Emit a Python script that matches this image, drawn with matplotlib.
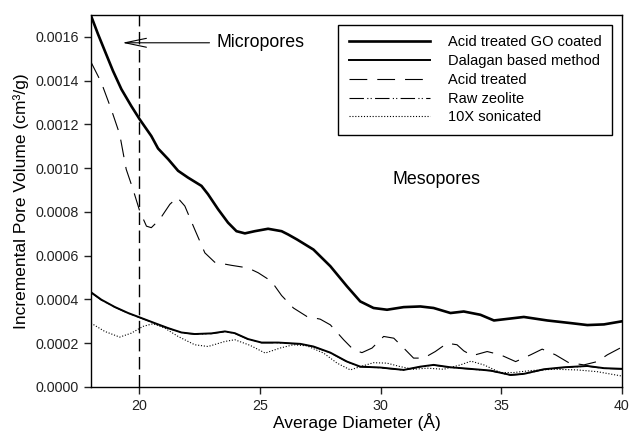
import matplotlib
matplotlib.use("Agg")
import matplotlib.pyplot as plt

plt.rcParams['font.family'] = ['Liberation Sans', 'DejaVu Sans']

# Acid treated GO coated
go_x = [18.0, 18.29, 18.57, 18.91, 19.26, 19.67, 20.02, 20.5, 20.78, 21.2, 21.61, 22.02,
        22.58, 22.85, 23.27, 23.68, 24.03, 24.38, 24.79, 25.34, 25.9, 26.17, 26.54, 27.22,
        27.92, 28.61, 29.16, 29.71, 30.27, 30.96, 31.65, 32.2, 32.9, 33.45, 34.14, 34.7,
        35.94, 36.91, 37.88, 38.57, 39.26, 40.0]
go_y = [0.001697, 0.001613, 0.001537, 0.001445, 0.001361, 0.001284, 0.001223, 0.001147,
        0.001090, 0.001041, 0.000988, 0.000957, 0.000919, 0.000881, 0.000812, 0.000751,
        0.000712, 0.000702, 0.000712, 0.000723, 0.000712, 0.000697, 0.000674, 0.000628,
        0.000552, 0.000460, 0.000391, 0.000361, 0.000353, 0.000365, 0.000368, 0.000361,
        0.000338, 0.000345, 0.000330, 0.000304, 0.000320, 0.000304, 0.000292, 0.000283,
        0.000286, 0.000300]

# Dalagan based method
dal_x = [18.0, 18.43, 18.98, 19.54, 20.09, 20.64, 21.2, 21.75, 22.3, 23.0, 23.55, 23.96,
         24.51, 25.07, 25.76, 26.68, 27.22, 27.92, 28.61, 29.16, 29.99, 30.96, 31.65, 32.2,
         32.9, 33.59, 34.56, 35.39, 35.94, 36.77, 37.6, 38.57, 39.26, 40.0]
dal_y = [0.000433, 0.000399, 0.000366, 0.000338, 0.000315, 0.000292, 0.000269, 0.000249,
         0.000242, 0.000245, 0.000254, 0.000246, 0.000219, 0.000203, 0.000203, 0.000197,
         0.000185, 0.000157, 0.000116, 0.000093, 0.000089, 0.000078, 0.000093, 0.000101,
         0.000090, 0.000084, 0.000075, 0.000055, 0.000060, 0.000081, 0.000090, 0.000096,
         0.000086, 0.000083]

# Acid treated
acid_x = [18.0, 18.43, 18.84, 19.19, 19.46, 19.74, 20.02, 20.3, 20.5, 20.85, 21.27, 21.58,
          21.89, 22.3, 22.72, 23.13, 23.82, 24.51, 24.93, 25.48, 25.9, 26.39, 26.95, 27.5,
          27.92, 28.47, 28.88, 29.23, 29.65, 30.13, 30.55, 30.96, 31.37, 31.79, 32.27,
          32.76, 33.17, 33.45, 33.8, 34.42, 34.97, 35.6, 36.22, 36.7, 37.25, 37.8, 38.43,
          38.98, 39.4, 40.0]
acid_y = [0.001485, 0.001391, 0.001269, 0.001155, 0.000995, 0.000904, 0.000804, 0.000735,
          0.000728, 0.000766, 0.000835, 0.000866, 0.000827, 0.000720, 0.000613, 0.000570,
          0.000556, 0.000544, 0.000522, 0.000483, 0.000418, 0.000361, 0.000322, 0.000310,
          0.000284, 0.000216, 0.000170, 0.000157, 0.000178, 0.000231, 0.000223, 0.000178,
          0.000132, 0.000132, 0.000162, 0.000200, 0.000193, 0.000165, 0.000143, 0.000162,
          0.000147, 0.000116, 0.000147, 0.000173, 0.000147, 0.000111, 0.000101, 0.000116,
          0.000147, 0.000182]

# Raw zeolite (runs under the Dalagan curve)
raw_x = [18.0, 18.43, 18.98, 19.54, 20.09, 20.64, 21.2, 21.75, 22.3, 23.0, 23.55, 23.96,
         24.51, 25.07, 25.76, 26.68, 27.22, 27.92, 28.61, 29.16, 29.99, 30.96, 31.65, 32.2,
         32.9, 33.59, 34.56, 35.39, 35.94, 36.77, 37.6, 38.57, 39.26, 40.0]
raw_y = [0.000431, 0.000397, 0.000365, 0.000337, 0.000314, 0.000291, 0.000268, 0.000248,
         0.000241, 0.000244, 0.000253, 0.000245, 0.000218, 0.000202, 0.000202, 0.000196,
         0.000184, 0.000156, 0.000115, 0.000092, 0.000088, 0.000077, 0.000092, 0.000100,
         0.000089, 0.000083, 0.000074, 0.000054, 0.000059, 0.000080, 0.000089, 0.000095,
         0.000085, 0.000082]

# 10X sonicated
son_x = [18.0, 18.57, 19.19, 19.67, 20.16, 20.57, 21.06, 21.61, 22.3, 22.85, 23.55, 23.96,
         24.6, 25.22, 25.84, 26.39, 26.95, 27.64, 28.2, 28.75, 29.16, 29.71, 30.27, 30.82,
         31.37, 31.93, 32.62, 33.31, 33.75, 34.28, 34.97, 35.52, 36.22, 37.18, 38.15,
         38.98, 40.0]
son_y = [0.000292, 0.000254, 0.000228, 0.000246, 0.000277, 0.000289, 0.000269, 0.000231,
         0.000193, 0.000185, 0.000208, 0.000216, 0.000190, 0.000155, 0.000178, 0.000193,
         0.000188, 0.000155, 0.000109, 0.000078, 0.000093, 0.000111, 0.000109, 0.000093,
         0.000081, 0.000086, 0.000081, 0.000101, 0.000118, 0.000101, 0.000066, 0.000066,
         0.000075, 0.000081, 0.000078, 0.000070, 0.000050]

x_ticks = [20, 25, 30, 35, 40]
y_ticks = [0.0000, 0.0002, 0.0004, 0.0006, 0.0008, 0.0010, 0.0012, 0.0014, 0.0016]

fig = plt.figure(figsize=(6.3, 4.32), dpi=100)
ax = fig.add_axes([0.1444, 0.1042, 0.8426, 0.8611])

ax.plot(go_x, go_y, color='black', lw=1.9, label='Acid treated GO coated',
        solid_joinstyle='round')
ax.plot(dal_x, dal_y, color='black', lw=1.4, label='Dalagan based method',
        solid_joinstyle='round')
ax.plot(acid_x, acid_y, color='black', lw=0.8, dashes=(16, 9), label='Acid treated')
ax.plot(raw_x, raw_y, color='black', lw=0.8, dashes=(13, 3, 1, 2, 1, 3),
        label='Raw zeolite')
ax.plot(son_x, son_y, color='black', lw=0.8, dashes=(1, 1.6), label='10X sonicated')

# boundary between micropores and mesopores
ax.axvline(20, color='black', lw=1.0, dashes=(9, 4))

ax.annotate('Micropores', xy=(19.3, 0.001573), xytext=(23.2, 0.001573),
            fontsize=12.8, va='center', ha='left',
            arrowprops=dict(arrowstyle='->,head_length=1.2,head_width=0.25',
                            color='black', lw=0.8, shrinkB=0, shrinkA=3))
ax.text(32.3, 0.00095, 'Mesopores', fontsize=12.8, ha='center', va='center')

ax.set_xlim(18, 40)
ax.set_ylim(0, 0.0017)
ax.set_xticks(x_ticks)
ax.set_yticks(y_ticks)
ax.set_yticklabels([f'{v:.4f}' for v in y_ticks])
ax.tick_params(direction='out', length=5, width=1, labelsize=10.3, colors='#222222')
for s in ax.spines.values():
    s.set_linewidth(1.0)

ax.set_xlabel('Average Diameter (Å)', fontsize=12.5, labelpad=0)
ax.set_ylabel('Incremental Pore Volume (cm³/g)', fontsize=12.5, labelpad=5)

leg = ax.legend(loc='upper right', bbox_to_anchor=(0.981, 0.973), fontsize=10.5,
                frameon=True, fancybox=False, edgecolor='black', framealpha=1,
                handlelength=5.6, handletextpad=1.2, labelspacing=0.33,
                borderpad=0.7, borderaxespad=0)
leg.get_frame().set_linewidth(1.0)

fig.savefig('out.png', dpi=100)
